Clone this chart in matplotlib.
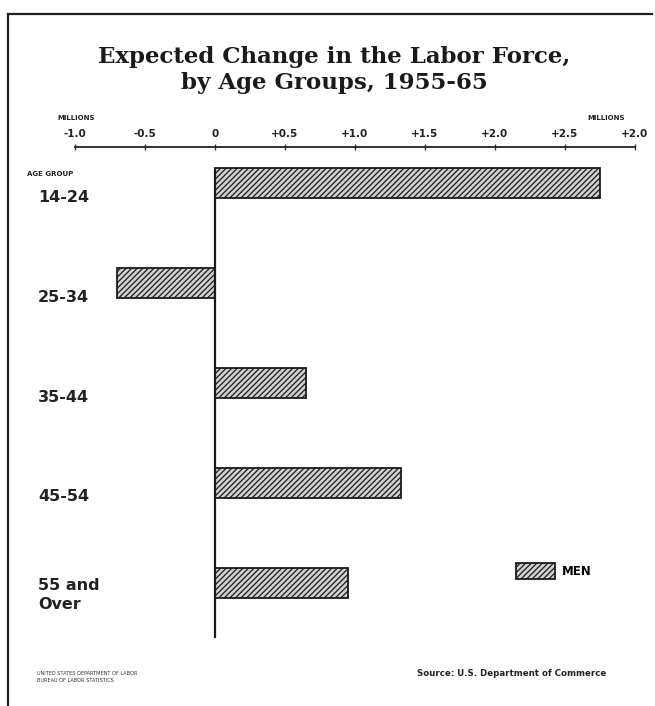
"""
Expected change in the labor force by age group, 1955-65 (men).
"""
import matplotlib
matplotlib.use("Agg")
import matplotlib.pyplot as plt
import matplotlib.transforms as mtransforms
from matplotlib.patches import Patch


# ─── Data ────────────────────────────────────────────────────
AGE_GROUPS = ["14-24", "25-34", "35-44", "45-54", "55 and\nOver"]
MEN_CHANGE = [2.75, -0.70, 0.65, 1.33, 0.95]   # millions

TICKS = [-1.0, -0.5, 0, 0.5, 1.0, 1.5, 2.0, 2.5, 3.0]
TICK_LABELS = ["-1.0", "-0.5", "0", "+0.5", "+1.0", "+1.5", "+2.0", "+2.5", "+2.0"]

plt.rcParams["hatch.linewidth"] = 0.9
plt.rcParams["hatch.color"] = "#3a3a3a"

W, H = 655, 706
fig = plt.figure(figsize=(W / 100, H / 100), dpi=100, facecolor="white")

# axes placed in pixel terms: x from -1 (75px) to 3 (635px), top at 147px
left, right, top, bottom = 75, 635, 147, 640
ax = fig.add_axes([left / W, 1 - bottom / H, (right - left) / W, (bottom - top) / H])
ax.set_facecolor("white")

ypos = list(range(len(AGE_GROUPS)))
ax.barh(ypos, MEN_CHANGE, height=0.3, color="#d0d0d0", edgecolor="#1a1a1a",
        linewidth=1.3, hatch="//////", zorder=3)

ax.set_xlim(-1.0, 3.0)
ax.set_ylim(4.57, -0.36)
ax.axvline(0, ymin=(4.57 - 4.54) / 4.93, ymax=(4.57 + 0.13) / 4.93,
           color="#1a1a1a", linewidth=1.6, zorder=4)

ax.xaxis.tick_top()
ax.set_xticks(TICKS)
ax.set_xticklabels(TICK_LABELS, fontsize=7.5, fontweight="bold",
                   family="DejaVu Sans", color="#222")
ax.tick_params(axis="x", direction="inout", length=5, width=1.0,
               color="#333", pad=3)
ax.set_yticks([])
for s in ["bottom", "left", "right"]:
    ax.spines[s].set_visible(False)
ax.spines["top"].set_linewidth(1.3)
ax.spines["top"].set_color("#222")

# category labels (x in figure fraction, y in data)
trans = mtransforms.blended_transform_factory(fig.transFigure, ax.transData)
for i, lab in enumerate(AGE_GROUPS):
    yy = i + 0.14 if "\n" not in lab else i + 0.12
    ax.text(38 / W, yy, lab, transform=trans, ha="left", va="center",
            fontsize=11.5, fontweight="bold", color="#222",
            linespacing=1.3, clip_on=False)

fig.text(27 / W, 1 - 174 / H, "AGE GROUP", fontsize=5, fontweight="bold",
         ha="left", va="center", color="#222")
fig.text(57 / W, 1 - 118 / H, "MILLIONS", fontsize=5, fontweight="bold",
         ha="left", va="center", color="#222")
fig.text(625 / W, 1 - 118 / H, "MILLIONS", fontsize=5, fontweight="bold",
         ha="right", va="center", color="#222")

# title
fig.text(0.51, 1 - 57 / H, "Expected Change in the Labor Force,",
         fontsize=16.5, fontweight="bold", family="DejaVu Serif",
         ha="center", va="center", color="#1a1a1a")
fig.text(0.51, 1 - 83 / H, "by Age Groups, 1955-65",
         fontsize=16.5, fontweight="bold", family="DejaVu Serif",
         ha="center", va="center", color="#1a1a1a")

# legend
fig.legend(handles=[Patch(facecolor="#d0d0d0", edgecolor="#1a1a1a",
                          linewidth=1.3, hatch="//////", label="MEN")],
           loc="center left", bbox_to_anchor=(505 / W, 1 - 571 / H),
           frameon=False, handlelength=3.3, handleheight=1.6,
           handletextpad=0.6,
           prop={"size": 8.5, "weight": "bold"})

# footer
fig.text(37 / W, 1 - 677 / H,
         "UNITED STATES DEPARTMENT OF LABOR\nBUREAU OF LABOR STATISTICS",
         fontsize=3.6, ha="left", va="center", color="#333", linespacing=1.4)
fig.text(606 / W, 1 - 674 / H, "Source: U.S. Department of Commerce",
         fontsize=6.2, fontweight="bold", ha="right", va="center", color="#222")

# page frame (top and left edges)
fig.add_artist(plt.Line2D([8 / W, 8 / W], [0, 1 - 14 / H],
                          transform=fig.transFigure, color="#222", linewidth=1.6))
fig.add_artist(plt.Line2D([8 / W, 652 / W], [1 - 14 / H, 1 - 14 / H],
                          transform=fig.transFigure, color="#222", linewidth=1.6))

fig.savefig("out.png", dpi=100, facecolor="white")
